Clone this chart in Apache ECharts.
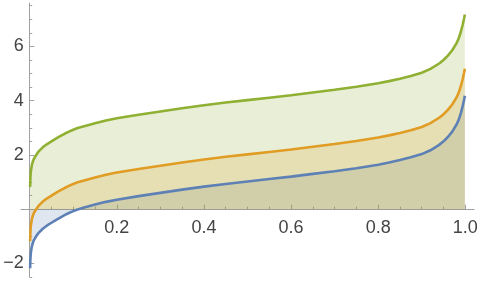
<!DOCTYPE html>
<html>
<head>
<meta charset="utf-8">
<script src="https://cdn.jsdelivr.net/npm/echarts@6/dist/echarts.min.js"></script>
<style>
html,body{margin:0;padding:0;background:#fff;}
#chart{width:480px;height:284px;}
</style>
</head>
<body>
<div id="chart"></div>
<script>
// probability values (x)
var p = [0.001,0.0012,0.0015,0.002,0.003,0.005,0.0075,0.01,0.015,0.02,0.03,0.04,0.05,0.06,0.07,0.08,0.09,0.1,0.11,0.125,0.15,0.175,0.2,0.25,0.3,0.35,0.4,0.45,0.5,0.55,0.6,0.65,0.7,0.75,0.8,0.825,0.85,0.875,0.9,0.92,0.94,0.95,0.96,0.97,0.98,0.985,0.99,0.994,0.997,0.999];
var blue = [-2.18,-2.04,-1.88,-1.74,-1.56,-1.37,-1.23,-1.13,-1.00,-0.88,-0.72,-0.60,-0.50,-0.40,-0.31,-0.22,-0.14,-0.07,-0.01,0.06,0.17,0.27,0.35,0.48,0.60,0.72,0.83,0.93,1.02,1.11,1.20,1.30,1.40,1.51,1.64,1.72,1.81,1.91,2.03,2.17,2.37,2.50,2.66,2.86,3.12,3.30,3.55,3.80,4.02,4.18];
var orange = [-1.18,-1.04,-0.88,-0.74,-0.56,-0.37,-0.23,-0.13,0.00,0.12,0.28,0.40,0.50,0.60,0.69,0.78,0.86,0.93,0.99,1.06,1.17,1.27,1.35,1.48,1.60,1.72,1.83,1.93,2.02,2.11,2.20,2.30,2.40,2.51,2.64,2.72,2.81,2.91,3.03,3.17,3.37,3.50,3.66,3.86,4.12,4.30,4.55,4.80,5.02,5.18];
var green = [0.82,0.96,1.12,1.26,1.44,1.63,1.77,1.87,2.00,2.12,2.28,2.40,2.50,2.60,2.69,2.78,2.86,2.93,2.99,3.06,3.17,3.27,3.35,3.48,3.60,3.72,3.83,3.93,4.02,4.11,4.20,4.30,4.40,4.51,4.64,4.72,4.81,4.91,5.03,5.17,5.37,5.50,5.66,5.86,6.12,6.30,6.55,6.80,7.02,7.18];

var colors = ['#5E81B5','#E19C24','#8FB032'];
var seriesData = [blue, orange, green];
function pairs(arr){ return p.map(function(x,i){ return [x, arr[i]]; }); }

// layout (pixels)
var W = 480, H = 284;
var yMin = -2.5, yMax = 7.6, plotTop = 3, plotBottom = 277;
var xLeft0 = 29.7, xRight1 = 465.3;     // pixel of x=0 and x=1
var pxPerY = (plotBottom - plotTop) / (yMax - yMin);
var yZeroPx = plotTop + yMax * pxPerY;
var pxPerX = xRight1 - xLeft0;

var axisColor = '#a0a0a0';
var font = {fontSize:18, color:'#444', fontFamily:'Liberation Sans'};

var series = [];
seriesData.forEach(function(arr, k){
  series.push({type:'line', xAxisIndex:0, yAxisIndex:0, data:pairs(arr), showSymbol:false, silent:true,
    lineStyle:{width:0, opacity:0}, areaStyle:{color:colors[k], opacity:0.2}, z:1});
});
seriesData.forEach(function(arr, k){
  series.push({type:'line', xAxisIndex:0, yAxisIndex:0, data:pairs(arr), showSymbol:false, silent:true,
    lineStyle:{width:2.6, color:colors[k]}, z:3});
});

var chart = echarts.init(document.getElementById('chart'));
chart.setOption({
  animation:false,
  grid:[
    {left:xLeft0, right:W - xRight1, top:plotTop, bottom:H - plotBottom, outerBoundsMode:'none', containLabel:false},
    {left:xLeft0, right:W - xRight1, top:plotTop, bottom:H - yZeroPx, outerBoundsMode:'none', containLabel:false},
    {left:xLeft0 - 0.02*pxPerX, right:W - (xRight1 + 0.02*pxPerX), top:plotTop, bottom:H - yZeroPx, outerBoundsMode:'none', containLabel:false},
    {left:xLeft0, right:W - xRight1, top:yZeroPx - 8*pxPerY, bottom:H - (yZeroPx + 4*pxPerY), outerBoundsMode:'none', containLabel:false}
  ],
  xAxis:[
    {gridIndex:0, type:'value', min:0, max:1, show:false},
    {gridIndex:1, type:'value', min:0, max:1, interval:0.2,
      axisLine:{show:false, onZero:false},
      axisTick:{show:true, inside:true, length:4.5, lineStyle:{color:axisColor}},
      minorTick:{show:true, splitNumber:4, length:2.5, lineStyle:{color:axisColor}},
      axisLabel:{show:true, margin:10, fontSize:font.fontSize, color:font.color, fontFamily:font.fontFamily,
        formatter:function(v){ return v === 0 ? '' : Number(v).toFixed(1); }},
      splitLine:{show:false}},
    {gridIndex:2, type:'value', min:-0.02, max:1.02,
      axisLine:{show:true, onZero:false, lineStyle:{color:axisColor, width:1}},
      axisTick:{show:false}, axisLabel:{show:false}, splitLine:{show:false}},
    {gridIndex:3, type:'value', min:0, max:1, show:false}
  ],
  yAxis:[
    {gridIndex:0, type:'value', min:yMin, max:yMax,
      axisLine:{show:true, onZero:false, lineStyle:{color:axisColor, width:1}},
      axisTick:{show:false}, axisLabel:{show:false}, splitLine:{show:false}},
    {gridIndex:1, type:'value', min:0, max:1, show:false},
    {gridIndex:2, type:'value', min:0, max:1, show:false},
    {gridIndex:3, type:'value', min:-4, max:8, interval:2,
      axisLine:{show:false, onZero:false},
      axisTick:{show:true, inside:true, length:4.5, lineStyle:{color:axisColor}},
      minorTick:{show:true, splitNumber:4, length:2.5, lineStyle:{color:axisColor}},
      axisLabel:{show:true, margin:6, fontSize:font.fontSize, color:font.color, fontFamily:font.fontFamily,
        formatter:function(v){ if (v === 0 || v === -4 || v === 8) return ''; return (v < 0 ? '\u2212' : '') + Math.abs(v); }},
      splitLine:{show:false}}
  ],
  series:series
});
</script>
</body>
</html>
